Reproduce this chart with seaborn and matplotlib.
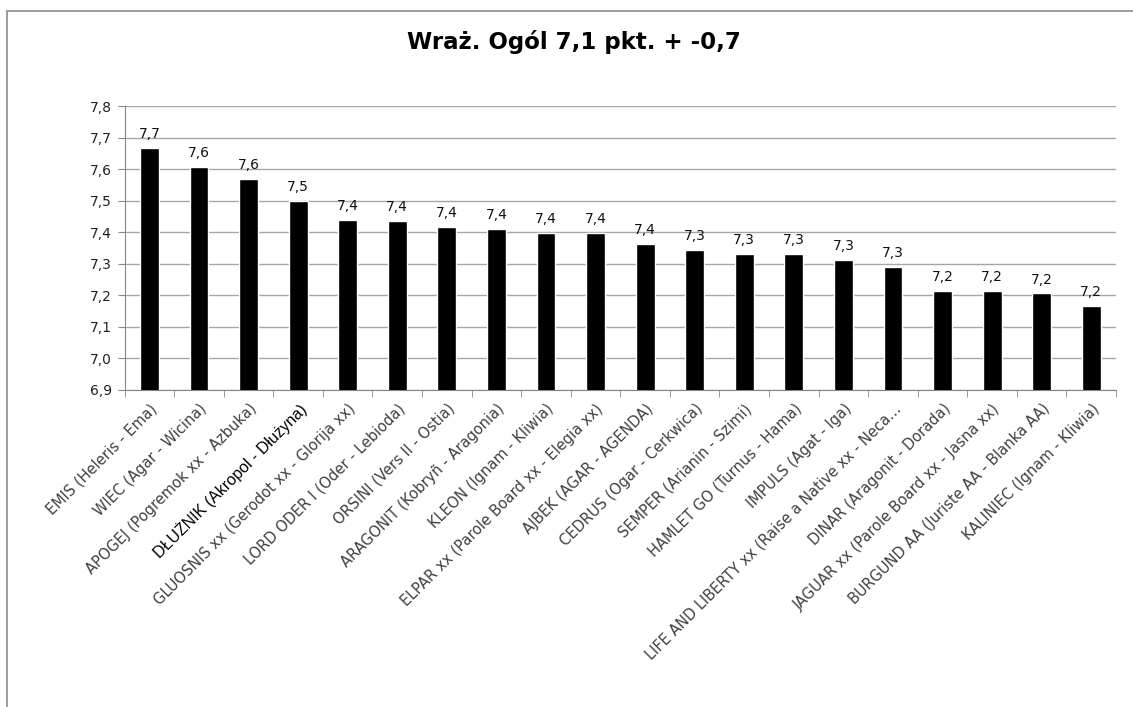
import matplotlib
matplotlib.use('Agg')
import matplotlib.pyplot as plt
import matplotlib.patches as mpatches
import seaborn as sns
import pandas as pd

# dane z wykresu
konie = ['EMIS (Heleris - Ema)', 'WIEC (Agar - Wicina)', 'APOGEJ (Pogremok xx - Azbuka)',
         'DŁUŻNIK (Akropol - Dłużyna)', 'GLUOSNIS xx (Gerodot xx - Glorija xx)',
         'LORD ODER I (Oder - Lebioda)', 'ORSINI (Vers II - Ostia)', 'ARAGONIT (Kobryñ - Aragonia)',
         'KLEON (Ignam - Kliwia)', 'ELPAR xx (Parole Board xx - Elegia xx)', 'AJBEK (AGAR - AGENDA)',
         'CEDRUS (Ogar - Cerkwica)', 'SEMPER (Arianin - Szimi)', 'HAMLET GO (Turnus - Hama)',
         'IMPULS (Agat - Iga)', 'LIFE AND LIBERTY xx (Raise a Native xx - Neca...',
         'DINAR (Aragonit - Dorada)', 'JAGUAR xx (Parole Board xx - Jasna xx)',
         'BURGUND AA (Juriste AA - Blanka AA)', 'KALINIEC (Ignam - Kliwia)']
oceny = [7.666, 7.608, 7.568, 7.499, 7.440, 7.437, 7.416, 7.409, 7.399, 7.399,
         7.364, 7.345, 7.330, 7.330, 7.312, 7.290, 7.213, 7.213, 7.206, 7.165]
etykiety = [f'{v:.1f}'.replace('.', ',') for v in oceny]
ticki_y = [6.9, 7.0, 7.1, 7.2, 7.3, 7.4, 7.5, 7.6, 7.7, 7.8]

df = pd.DataFrame({'kon': konie, 'ocena': oceny})

sns.set_style('white')
plt.rcParams['font.family'] = ['DejaVu Sans']

fig = plt.figure(figsize=(11.33, 7.07), dpi=100)
ax = fig.add_axes([0.110, 0.4484, 0.875, 0.4016])

sns.barplot(data=df, x='kon', y='ocena', color='black', width=0.38,
            saturation=1, ax=ax, zorder=3)

ax.set_ylim(6.9, 7.8)
ax.set_xlim(-0.5, len(konie) - 0.5)
ax.set_yticks(ticki_y)
ax.set_yticklabels([f'{t:.1f}'.replace('.', ',') for t in ticki_y], fontsize=10, color='#222222')
ax.yaxis.grid(True, color='#a6a6a6', linewidth=1.0, zorder=0)
ax.set_xlabel('')
ax.set_ylabel('')

for s in ['top', 'right']:
    ax.spines[s].set_visible(False)
for s in ['left', 'bottom']:
    ax.spines[s].set_color('#868686')
ax.tick_params(axis='y', length=5, color='#868686', left=True, pad=4)

# etykiety osi X i kreski pomiędzy kategoriami
ax.set_xticks(range(len(konie)))
ax.set_xticklabels(konie, rotation=45, ha='right', rotation_mode='anchor',
                   fontsize=10.5, color='#404040')
ax.tick_params(axis='x', which='major', length=0, pad=8)
ax.set_xticks([i - 0.5 for i in range(len(konie) + 1)], minor=True)
ax.tick_params(axis='x', which='minor', length=5, color='#868686', bottom=True)
for lab in ax.get_xticklabels():
    if lab.get_text().startswith('DŁUŻNIK'):
        lab.set_color('black')
        lab.set_fontfamily('Liberation Sans')
        lab.set_fontsize(11.5)

ax.bar_label(ax.containers[0], labels=etykiety, padding=5, fontsize=10, color='#111111')

fig.suptitle('Wraż. Ogól 7,1 pkt. + -0,7', x=0.507, y=0.958, fontsize=16.5,
             fontweight='bold', color='black')

# ramka wykresu (widoczna tylko góra i lewa strona)
fig.add_artist(mpatches.Rectangle((7 / 1133, -0.2), 1.5, 1.2 - 11 / 707,
                                  transform=fig.transFigure, fill=False,
                                  edgecolor='#8c8c8c', linewidth=1.2))

fig.savefig('out.png', dpi=100)
